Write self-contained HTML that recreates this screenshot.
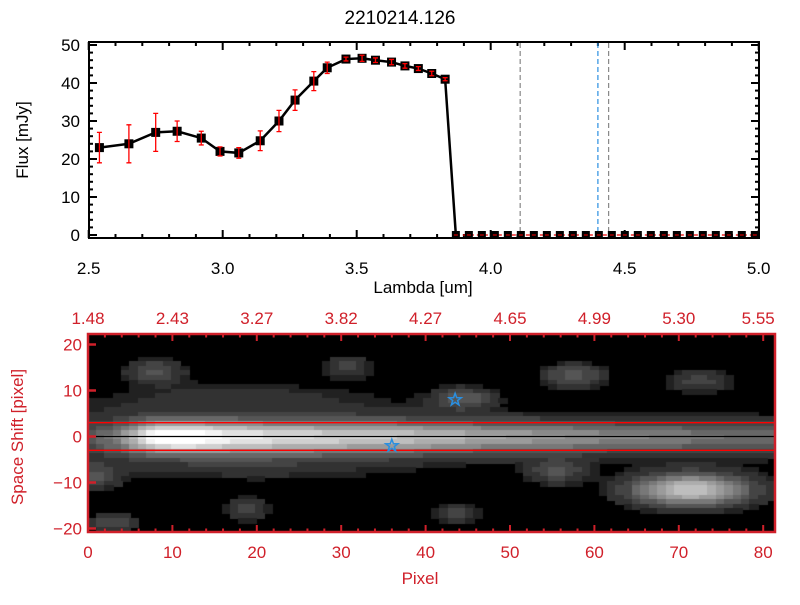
<!DOCTYPE html>
<html><head><meta charset="utf-8">
<style>
body{margin:0;background:#fff;}
svg text{font-family:"Liberation Sans",sans-serif;}
</style></head>
<body>
<svg id="chart" width="800" height="600" viewBox="0 0 800 600" xmlns="http://www.w3.org/2000/svg">
<rect width="800" height="600" fill="#fff"/>
<text x="400" y="24" font-size="19" text-anchor="middle">2210214.126</text>
<g id="topG"></g>
<foreignObject x="88" y="334" width="687" height="198"><canvas xmlns="http://www.w3.org/1999/xhtml" id="img" width="687" height="198" style="width:687px;height:198px;display:block"></canvas></foreignObject>
<g id="botG"></g>
</svg>
<script>
// Top spectrum data
const lambdas=[2.54,2.65,2.75,2.83,2.92,2.99,3.06,3.14,3.21,3.27,3.34,3.39,3.46,3.52,3.57,3.63,3.68,3.73,3.78,3.83];
const fluxes=[23,24,27,27.3,25.5,22,21.6,24.8,30,35.5,40.5,44,46.3,46.5,46,45.5,44.5,43.8,42.5,41];
const errors=[4,5,5,2.7,1.8,1.2,1.4,2.6,2.8,2.7,2.5,1.5,0.5,0.8,0.6,0.7,0.6,0.5,0.6,0.4];
const zeroStart=3.87, zeroStep=0.0485, zeroCount=24;
const xTicks=["2.5","3.0","3.5","4.0","4.5","5.0"];
const yTicks=[0,10,20,30,40,50];
const vlines=[{l:4.11,c:"#888"},{l:4.40,c:"#2a8fe0"},{l:4.44,c:"#888"}];
// Bottom image data: blobs [pixel, shift, amplitude, sx, sy]
const blobs=[[8,14,0.25,2.5,1.8],[31,15,0.2,2,1.8],[58,13,0.3,2.5,1.8],[73,12,0.2,3,1.8],[45,8,0.28,2.5,1.6],[1,-9,0.25,2,1.8],[56,-8,0.25,2.5,1.8],[72,-12,0.75,5,2.5],[19,-16,0.22,2,1.8],[44,-17,0.2,2,1.5],[3,-19,0.25,2,1.5],[20,-6,0.1,12,3],[18,8,0.1,12,3]];
const streakPix=[0,4,8,12,16,24,32,40,50,60,70,81];
const streakAmp=[0.15,0.4,0.95,1.0,0.85,0.72,0.68,0.62,0.55,0.45,0.38,0.3];
const topLabels=["1.48","2.43","3.27","3.82","4.27","4.65","4.99","5.30","5.55"];
const pixTicks=[0,10,20,30,40,50,60,70,80];
const shiftTicks=[20,10,0,-10,-20];
const stars=[[43.5,8],[36,-2]];

const NS="http://www.w3.org/2000/svg";
function el(p,t,a){const e=document.createElementNS(NS,t);for(const k in a)e.setAttribute(k,a[k]);p.appendChild(e);return e;}
const topG=document.getElementById('topG'), botG=document.getElementById('botG');
const X=l=>88.7+(l-2.5)*268, Y=v=>235-v*3.8;
const RED="#d0202a";
let e=el(topG,'rect',{x:89,y:42,width:670,height:196,fill:'none',stroke:'#000','stroke-width':2});


for(let i=0;i<=25;i++){const x=X(2.5+i*0.1),m=i%5==0?8:4;
 el(topG,'line',{x1:x,x2:x,y1:238,y2:238-m,stroke:'#000','stroke-width':2});
 el(topG,'line',{x1:x,x2:x,y1:42,y2:42+m,stroke:'#000','stroke-width':2});}
for(let v=0;v<=50;v+=2){const y=Y(v),m=v%10==0?8:4;
 el(topG,'line',{x1:89,x2:89+m,y1:y,y2:y,stroke:'#000','stroke-width':2});
 el(topG,'line',{x1:759,x2:759-m,y1:y,y2:y,stroke:'#000','stroke-width':2});}
xTicks.forEach(t=>{e=el(topG,'text',{x:X(+t),y:274,'font-size':17,'text-anchor':'middle'});e.textContent=t;
 
 });
yTicks.forEach(t=>{e=el(topG,'text',{x:80,y:Y(t)+6,'font-size':17,'text-anchor':'end'});e.textContent=t;
 
 });
e=el(topG,'text',{x:423,y:293,'font-size':17,'text-anchor':'middle'});e.textContent="Lambda [um]";


e=el(topG,'text',{x:0,y:0,'font-size':17,'text-anchor':'middle',transform:'translate(28,140) rotate(-90)'});e.textContent="Flux [mJy]";


vlines.forEach(v=>{e=el(topG,'line',{x1:X(v.l),x2:X(v.l),y1:43,y2:237,stroke:v.c,'stroke-width':1.2,'stroke-dasharray':'5,3'});
 
 });
const zl=[];for(let i=0;i<zeroCount;i++)zl.push(zeroStart+i*zeroStep);
e=el(topG,'line',{x1:X(zeroStart),x2:758,y1:Y(0),y2:Y(0),stroke:'#e00','stroke-width':1.2,'stroke-dasharray':'4,3'});


const pts=lambdas.map((l,i)=>X(l)+','+Y(fluxes[i])).concat([X(zeroStart)+','+Y(0)]);
e=el(topG,'polyline',{points:pts.join(' '),fill:'none',stroke:'#000','stroke-width':2.5});


lambdas.forEach((l,i)=>{const x=X(l),y=Y(fluxes[i]);
 e=el(topG,'rect',{x:x-4.5,y:y-4.5,width:9,height:9,fill:'#000'});
 
 
 const y1=Y(fluxes[i]+errors[i]),y2=Y(fluxes[i]-errors[i]);
 e=el(topG,'path',{d:`M${x},${y1}V${y2}M${x-2.5},${y1}H${x+2.5}M${x-2.5},${y2}H${x+2.5}`,stroke:'#f00','stroke-width':1.3,fill:'none'});
 
 });
zl.forEach(l=>{if(X(l)>757)return;e=el(topG,'rect',{x:X(l)-4,y:Y(0)-4,width:8,height:8,fill:'#000'});
 
 
 el(topG,'line',{x1:X(l)-2,x2:X(l)+2,y1:Y(0),y2:Y(0),stroke:'#f00','stroke-width':1});});

// image
const cv=document.getElementById('img'),ctx=cv.getContext('2d');
ctx.fillStyle='#000';ctx.fillRect(0,0,687,198);
function streak(p){for(let i=1;i<streakPix.length;i++)if(p<=streakPix[i]){const t=(p-streakPix[i-1])/(streakPix[i]-streakPix[i-1]);return streakAmp[i-1]+t*(streakAmp[i]-streakAmp[i-1]);}return streakAmp[streakAmp.length-1];}
const cw=687/82, ch=198/43;
for(let r=0;r<43;r++)for(let c=0;c<82;c++){const s=22-r-0.5,p=c+0.5;
 let v=streak(p)*Math.exp(-((s+0.5)**2)/(2*2.4**2));
 v+=0.1*Math.exp(-((s)**2)/(2*6**2))*(p<45?1:0.6);
 blobs.forEach(b=>{v+=b[2]*Math.exp(-((p-b[0])**2)/(2*b[3]**2)-((s-b[1])**2)/(2*b[4]**2));});
 if(v<0.08)continue;
 const g=Math.min(255,Math.round(Math.round(v*14)/14*245)+15);
 ctx.fillStyle=`rgb(${g},${g},${g})`;
 ctx.fillRect(Math.floor(c*cw),Math.floor(r*ch),Math.ceil(cw)+1,Math.ceil(ch)+1);}

const PX=p=>88+p*8.44, SY=s=>436.5-s*4.6;
[3,-3].forEach(a=>{e=el(botG,'line',{x1:88,x2:775,y1:SY(a),y2:SY(a),stroke:'#f00','stroke-width':1.3});
 
 });
e=el(botG,'line',{x1:88,x2:775,y1:SY(0),y2:SY(0),stroke:'#000','stroke-width':1.2});


stars.forEach(s=>{const cx=PX(s[0]),cy=SY(s[1]);let d='';
 for(let i=0;i<10;i++){const a=-Math.PI/2+i*Math.PI/5,r=i%2?2.6:6.5;d+=(i?'L':'M')+(cx+r*Math.cos(a)).toFixed(1)+','+(cy+r*Math.sin(a)).toFixed(1);}
 e=el(botG,'path',{d:d+'Z',fill:'none',stroke:'#2a8fe0','stroke-width':1.5});
 
 });
e=el(botG,'rect',{x:88,y:334,width:687,height:198,fill:'none',stroke:RED,'stroke-width':2.5});


for(let p=0;p<=81;p+=2){const x=PX(p),m=p%10==0?7:3.5;
 el(botG,'line',{x1:x,x2:x,y1:532,y2:532-m,stroke:RED,'stroke-width':2});
 el(botG,'line',{x1:x,x2:x,y1:334,y2:334+m,stroke:RED,'stroke-width':2});}
for(let s=-20;s<=20;s+=10){el(botG,'line',{x1:88,x2:96,y1:SY(s),y2:SY(s),stroke:RED,'stroke-width':2.5});}
pixTicks.forEach(t=>{e=el(botG,'text',{x:PX(t),y:558,'font-size':17,'text-anchor':'middle',fill:RED});e.textContent=t;
 
 });
topLabels.forEach((t,i)=>{e=el(botG,'text',{x:PX(i*10)+(i==8?-5:0),y:324,'font-size':17,'text-anchor':'middle',fill:RED});e.textContent=t;
 
 });
shiftTicks.forEach(t=>{e=el(botG,'text',{x:82,y:SY(t)+6,'font-size':17,'text-anchor':'end',fill:RED});e.textContent=t<0?'\u2212'+(-t):t;
 
 });
e=el(botG,'text',{x:420,y:584,'font-size':17,'text-anchor':'middle',fill:RED});e.textContent="Pixel";


e=el(botG,'text',{x:0,y:0,'font-size':17,'text-anchor':'middle',fill:RED,transform:'translate(23,437) rotate(-90)'});e.textContent="Space Shift [pixel]";


</script>
</body></html>
